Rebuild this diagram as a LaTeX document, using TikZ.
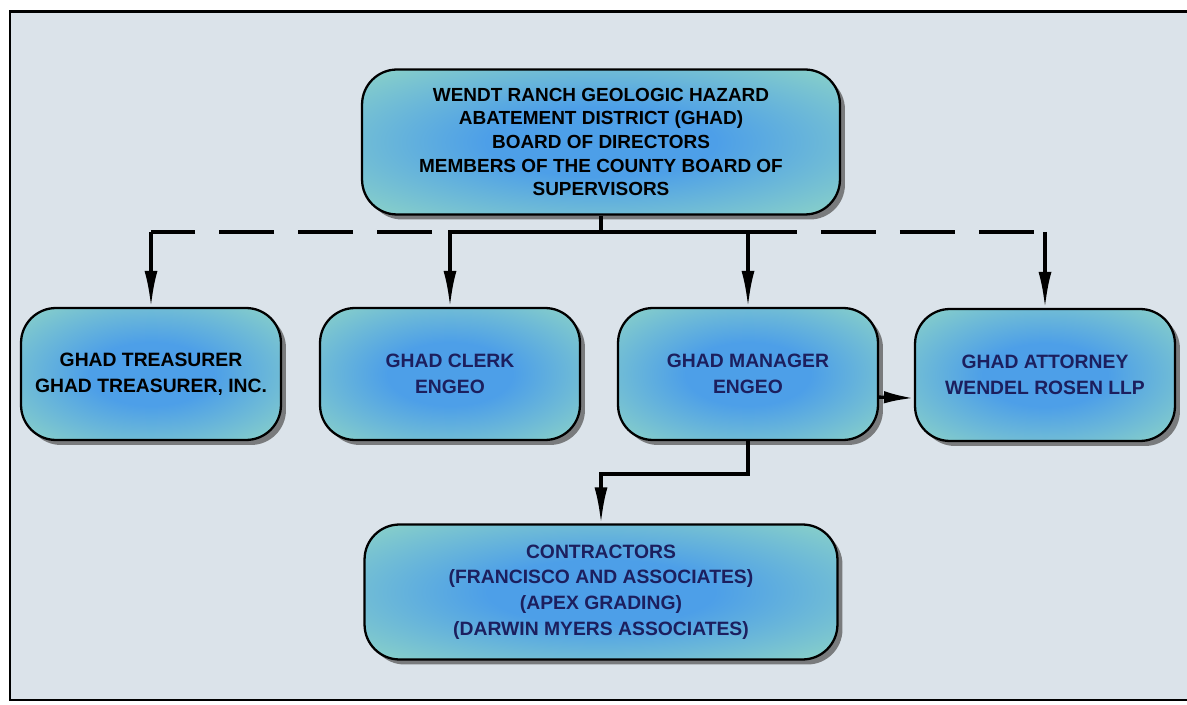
\documentclass[tikz,border=0pt]{standalone}
\usepackage{fontspec}
\setmainfont{Liberation Sans}
\usetikzlibrary{arrows.meta,shadows}
\definecolor{framefill}{HTML}{DBE3EA}
\definecolor{boxinner}{HTML}{4D9FE8}
\definecolor{boxouter}{HTML}{92D8C4}
\definecolor{navytext}{HTML}{1C1F5E}
\pgfdeclareradialshading{boxglow}{\pgfpoint{0bp}{0bp}}{color(0bp)=(boxinner); color(12bp)=(boxinner); color(38bp)=(boxouter); color(50bp)=(boxouter); color(75bp)=(boxouter)}
\tikzset{
  orgbox/.style={draw, line width=1.3pt, rounded corners=0.7cm, shading=boxglow,
    drop shadow={shadow xshift=0.1cm, shadow yshift=-0.1cm, fill=black!65, opacity=0.75},
    align=center, text=navytext, font=\bfseries\fontsize{11}{14.6}\selectfont,
    minimum width=5.2cm, minimum height=2.64cm},
  link/.style={line width=1.9pt},
  arrowlink/.style={link, -{Latex[length=0.72cm,width=0.26cm]}},
  dashlink/.style={link, dash pattern=on 1.1cm off 0.48cm}
}
\begin{document}
\begin{tikzpicture}[x=0.02cm,y=-0.02cm]
  \useasboundingbox (0,0) rectangle (1187,705);
  \fill[white] (0,0) rectangle (1187,705);
  % frame
  \fill[framefill] (10,12) rectangle (1187,700);
  \draw[line width=1.7pt] (1187,12) -- (10,12) -- (10,700) -- (1187,700);

  \node[orgbox, text=black, minimum width=9.56cm, minimum height=2.9cm,
        font=\bfseries\fontsize{10.8}{13.5}\selectfont] (board) at (601,142)
        {WENDT RANCH GEOLOGIC HAZARD\\ABATEMENT DISTRICT (GHAD)\\BOARD OF DIRECTORS\\MEMBERS OF THE COUNTY BOARD OF\\SUPERVISORS};
  \node[orgbox, text=black] (treasurer) at (151,374) {GHAD TREASURER\\GHAD TREASURER, INC.};
  \node[orgbox] (clerk) at (450,374) {GHAD CLERK\\ENGEO};
  \node[orgbox] (manager) at (748,374) {GHAD MANAGER\\ENGEO};
  \node[orgbox] (attorney) at (1045,375) {GHAD ATTORNEY\\WENDEL ROSEN LLP};
  \node[orgbox, minimum width=9.46cm, minimum height=2.7cm] (contractors) at (601,592)
        {CONTRACTORS\\(FRANCISCO AND ASSOCIATES)\\(APEX GRADING)\\(DARWIN MYERS ASSOCIATES)};

  % connectors
  \coordinate (junc) at (601,232);
  \coordinate (tdrop) at (treasurer.north |- junc);
  \coordinate (cdrop) at (clerk.north |- junc);
  \coordinate (mdrop) at (manager.north |- junc);
  \coordinate (adrop) at (attorney.north |- junc);
  \draw[link] (board.south) -- (junc);
  \draw[arrowlink] (junc) -| (clerk.north);
  \draw[arrowlink] (junc) -| (manager.north);
  \draw[dashlink, dash phase=1.22cm] (cdrop) -- (tdrop);
  \draw[arrowlink] (tdrop) -- (treasurer.north);
  \draw[dashlink, dash phase=0.12cm] (mdrop) -- (adrop);
  \draw[arrowlink] (adrop) -- (attorney.north);
  \draw[arrowlink] (manager.south) -- ++(0,33) -| (contractors.north);
  \draw[link, -{Latex[length=0.6cm,width=0.25cm]}] (manager.-10) -- (attorney.190);
\end{tikzpicture}
\end{document}
